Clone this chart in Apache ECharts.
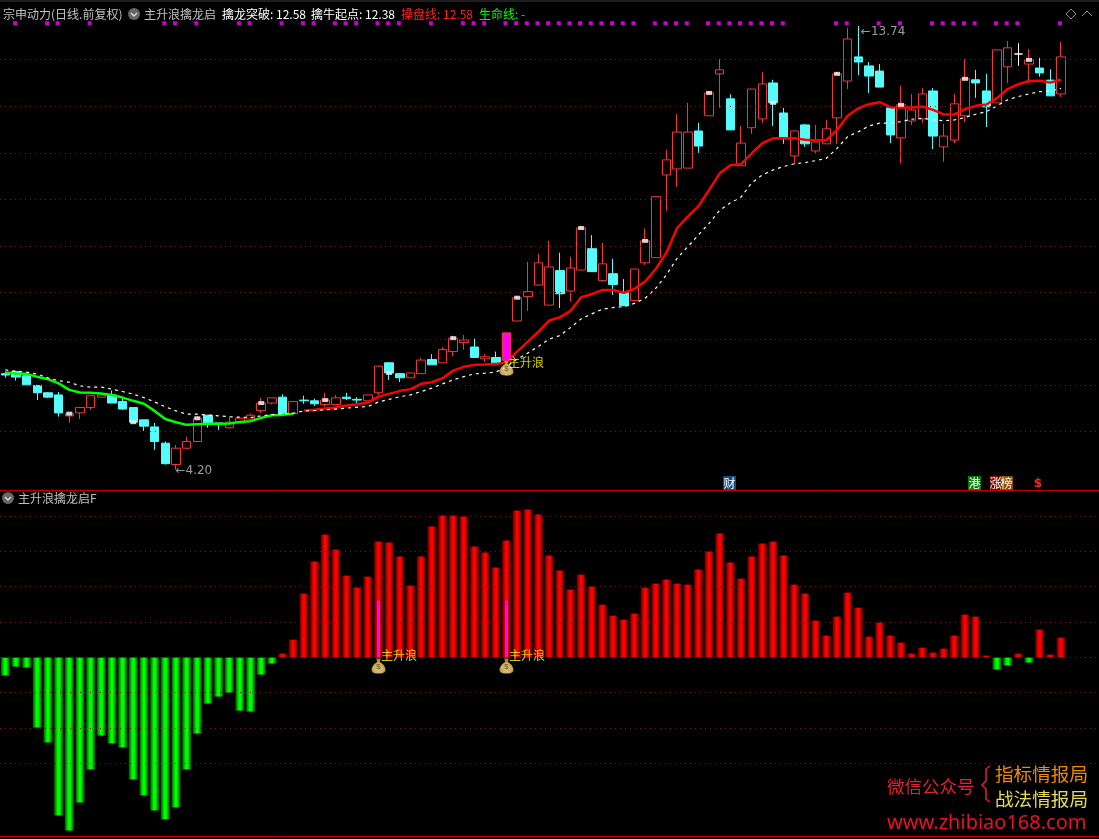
<!DOCTYPE html>
<html><head><meta charset="utf-8"><style>html,body{margin:0;padding:0;background:#000}#c{width:1099px;height:839px}</style>
<script src="https://cdn.jsdelivr.net/npm/echarts@6/dist/echarts.min.js"></script></head><body><div id="c"></div>
<script>
// open, close, low, high
const ohlc = [
[5.43,5.41,5.37,5.46],[5.46,5.38,5.33,5.47],[5.40,5.27,5.27,5.41],[5.26,5.16,5.06,5.27],[5.16,5.10,5.09,5.17],
[5.13,4.89,4.84,5.17],[4.85,4.88,4.76,4.88],[4.89,4.96,4.81,4.97],[4.96,5.12,4.93,5.12],[5.10,5.13,5.10,5.13],
[5.13,5.02,5.02,5.19],[5.04,4.94,4.93,5.10],[4.96,4.77,4.77,4.96],[4.80,4.72,4.66,4.80],[4.71,4.53,4.43,4.76],
[4.51,4.27,4.26,4.53],[4.26,4.45,4.20,4.49],[4.45,4.53,4.44,4.59],[4.53,4.82,4.53,4.85],[4.86,4.76,4.70,4.86],
[4.76,4.75,4.67,4.76],[4.70,4.77,4.69,4.84],[4.76,4.82,4.76,4.82],[4.81,4.86,4.81,4.88],[4.92,5.02,4.89,5.09],
[5.02,5.09,5.00,5.09],[5.10,4.88,4.88,5.14],[4.88,5.04,4.88,5.04],[5.06,5.05,5.01,5.12],[5.05,5.01,4.98,5.08],
[5.00,5.06,4.97,5.16],[5.00,5.09,5.00,5.13],[5.10,5.08,5.06,5.16],[5.07,5.06,5.02,5.10],[5.05,5.13,5.05,5.13],
[5.16,5.54,5.13,5.54],[5.59,5.44,5.34,5.59],[5.43,5.37,5.31,5.44],[5.37,5.44,5.37,5.44],[5.43,5.63,5.43,5.66],
[5.64,5.56,5.56,5.72],[5.59,5.79,5.59,5.83],[5.76,5.97,5.69,6.01],[5.90,5.94,5.79,6.02],[5.83,5.67,5.67,5.96],
[5.65,5.68,5.60,5.72],[5.67,5.59,5.59,5.76],[5.63,6.05,5.63,6.05],[6.25,6.65,6.25,6.68],[6.67,6.76,6.42,7.32],
[6.88,7.30,6.88,7.48],[6.52,7.22,6.52,7.74],[7.15,6.72,6.47,7.50],[6.77,7.20,6.58,7.42],[7.16,8.01,7.16,8.06],
[7.58,7.13,7.13,7.86],[6.96,7.28,6.94,7.70],[7.09,6.89,6.70,7.38],[6.74,6.51,6.51,6.99],[6.60,7.18,6.60,7.18],
[7.30,7.74,7.26,8.00],[7.40,8.71,7.40,8.71],[9.23,9.61,8.39,9.87],[9.38,10.35,8.94,10.86],[9.40,10.35,9.40,11.19],
[10.38,9.97,9.79,10.61],[10.81,11.49,10.81,11.55],[12.09,12.22,11.04,12.58],[11.31,10.41,10.41,11.45],[9.46,10.05,9.46,10.52],
[10.47,11.61,10.30,11.61],[10.72,11.77,10.61,12.15],[11.80,11.19,10.52,11.90],[10.89,10.19,10.03,11.04],[9.71,10.38,9.51,10.38],
[10.55,10.03,9.95,10.58],[9.84,10.08,9.76,10.55],[10.03,10.44,10.03,10.69],[10.75,12.09,10.03,12.15],[11.86,13.27,11.61,13.67],
[12.65,12.48,12.05,13.74],[12.35,12.02,11.49,12.48],[12.18,11.67,11.67,12.41],[11.04,10.27,10.05,11.04],[10.19,11.13,9.53,11.71],
[10.66,10.98,10.55,11.46],[10.72,11.46,10.61,11.64],[11.55,10.24,9.89,11.64],[9.95,10.24,9.56,10.58],[10.13,11.16,10.05,11.46],
[10.81,11.93,10.63,12.58],[11.90,11.80,11.34,12.22],[11.55,11.07,10.49,12.09],[11.19,12.89,11.19,12.89],[12.32,12.96,11.80,13.20],
[12.75,12.75,12.35,13.12],[12.41,12.55,11.80,12.92],[12.28,12.12,12.00,12.62],[11.89,11.40,11.40,12.24],[11.46,12.65,11.37,13.17]
];
const controlLine = [5.446,5.431,5.427,5.384,5.35,5.29,5.20,5.163,5.16,5.15,
5.13,5.094,5.05,5.01,4.916,4.81,4.77,4.736,4.745,4.75,
4.75,4.753,4.774,4.783,4.825,4.86,4.864,4.88,4.92,4.93,
4.947,4.96,4.986,5.005,5.026,5.107,5.145,5.186,5.21,5.284,
5.307,5.365,5.474,5.53,5.559,5.564,5.57,5.60,5.76,5.916,
6.075,6.257,6.31,6.42,6.66,6.713,6.79,6.79,6.74,6.81,
6.945,7.18,7.50,8.01,8.26,8.49,8.87,9.27,9.47,9.50,
9.78,10.05,10.18,10.18,10.18,10.14,10.12,10.13,10.41,10.81,
11.03,11.15,11.21,11.06,11.05,11.05,11.08,10.98,10.85,10.85,
11.00,11.10,11.14,11.33,11.61,11.76,11.86,11.87,11.81,11.90];
const lifeLine = [5.485,5.466,5.452,5.423,5.369,5.33,5.307,5.256,5.238,5.238,
5.21,5.177,5.14,5.094,5.035,4.97,4.916,4.873,4.873,4.86,
4.851,4.84,4.834,4.83,4.851,4.868,4.877,4.886,4.916,4.92,
4.93,4.94,4.952,4.965,4.973,5.035,5.07,5.107,5.13,5.177,
5.224,5.284,5.34,5.388,5.427,5.437,5.452,5.53,5.647,5.736,
5.84,5.955,6.011,6.14,6.285,6.37,6.45,6.478,6.495,6.55,
6.642,6.82,7.07,7.39,7.62,7.865,8.11,8.40,8.57,8.70,
9.04,9.23,9.355,9.44,9.51,9.54,9.59,9.65,9.91,10.225,
10.36,10.52,10.60,10.60,10.64,10.71,10.74,10.69,10.67,10.69,
10.76,10.855,10.93,11.10,11.28,11.38,11.46,11.53,11.55,11.63];
const momentum = [-18,-9,-10,-70,-85,-158,-173,-145,-112,-78,
-86,-90,-122,-138,-153,-162,-150,-112,-76,-46,
-39,-35,-53,-54,-17,-6,4,18,64,96,
123,108,82,70,81,116,115,101,72,101,
131,142,142,141,111,105,90,117,147,148,
143,102,87,68,83,71,53,42,38,44,
70,74,78,74,73,88,106,124,95,79,
101,114,116,102,73,64,37,22,41,65,
50,21,35,22,15,4,10,5,9,22,
43,41,2,-12,-8,4,-5,28,3,20];
const greenEnd = 27;              // control line is green up to this bar, red after it
const whiteMarkBars = [6,12,18,24,30,36,42,48,54,60,66,72,78,84,90,96];
const topDotBars = [1,4,5,8,15,16,18,22,23,26,28,29,31,32,33,35,36,37,40,43,44,45,47,48,49,50,51,52,53,54,55,56,57,58,59,61,62,63,64,66,67,68,69,70,71,72,73,78,79,82,84,87,88,89,90,91,93,94,95,99];
const signalBarsUpper = [47];
const signalBarsLower = [35,47];
const signalHeight = 57;
const extremes = [{bar:80,price:13.74,text:'←13.74',dy:6,dx:-3},{bar:16,price:4.20,text:'←4.20',dy:1,dx:-6}];
const priceGrid = [12.58,11.10,9.79,8.66,7.64,6.755,5.96,5.27,4.65];
const momentumGrid = [141,106,71,35,0,-35,-71,-106];
const priceRange = [3.98,13.96];
const momentumRange = [-178.4,166.6];
const dotPrice = 13.84, signalTextPrice = 5.60, bagPrice = 5.51;
const axisTicks = [84,89];
const blankSlots = 3;           // empty bars to the right of the last candle
const barIdx = Array.from({length:ohlc.length+blankSlots},(_,i)=>i);

const UP='#f53535', CY='#54fcfc';
const grad=(a,b)=>new echarts.graphic.LinearGradient(0,0,1,0,[{offset:0,color:a},{offset:.4,color:b},{offset:.6,color:b},{offset:1,color:a}]);
const redGrad=grad('#500000','#ff0000'), greenGrad=grad('#005000','#00ff00');
const bag='path://M33,0 L67,0 L58,22 C85,35 100,60 98,78 C96,95 75,100 50,100 C25,100 4,95 2,78 C0,60 15,35 42,22 Z';
const bagFill=new echarts.graphic.RadialGradient(.5,.65,.6,[{offset:0,color:'#fff9dc'},{offset:.6,color:'#ffdc68'},{offset:1,color:'#d89c18'}]);
const FONT='"Noto Sans CJK SC"';
const txt=(text,x,y,color,size,extra)=>({type:'text',x,y,silent:true,z:50,style:Object.assign({text,fill:color,font:size+'px '+FONT,verticalAlign:'middle'},extra||{})});
const chip=(ch,x,y,w,bg)=>[
 {type:'rect',silent:true,z:49,shape:{x,y,width:w,height:14},style:{fill:bg}},
 txt(ch,x+w/2,y+7,'#fff',12,{align:'center'})];
const chevron=(cx,cy)=>[
 {type:'circle',silent:true,z:49,shape:{cx,cy,r:6},style:{fill:'#666'}},
 {type:'polyline',silent:true,z:50,shape:{points:[[cx-3,cy-1],[cx,cy+2],[cx+3,cy-1]]},style:{stroke:'#ddd',lineWidth:1.4,fill:null}}];
const hline=v=>({yAxis:v});
const gridLS={color:'#8a1010',width:1,type:[1,4]};

const graphics=[
 {type:'rect',silent:true,shape:{x:0,y:0,width:1099,height:2},style:{fill:'#1e1e1e'}},
 {type:'line',silent:true,z:40,shape:{x1:0,y1:490.5,x2:1099,y2:490.5},style:{stroke:'#c00000',lineWidth:1}},
 txt('宗申动力(日线.前复权)',3,14,'#c0c0c0',12),...chevron(134,14),
 txt('主升浪擒龙启',144,14,'#c0c0c0',12),
 txt('擒龙突破: 12.58',222,14,'#ffffff',12),
 txt('擒牛起点: 12.38',311,14,'#ffffff',12),
 txt('操盘线: 12.58',401,14,'#ff2020',12),
 txt('生命线: -',479,14,'#00ff00',12),
 {type:'polygon',silent:true,z:50,shape:{points:[[1071,9],[1076,14],[1071,19],[1066,14]]},style:{stroke:'#8a8a8a',fill:null}},
 {type:'polyline',silent:true,z:50,shape:{points:[[1082,16],[1087,11],[1092,16]]},style:{stroke:'#8a8a8a',fill:null}},
 ...chevron(8,498),txt('主升浪擒龙启F',18,498,'#c0c0c0',12),
 ...chip('财',723,476,13,'#174a7c'),...chip('港',968,476,13,'#0a7a0a'),
 ...chip('涨',990,476,11,'#7a0a0a'),...chip('榜',1000,476,13,'#8a4c06'),
 txt('$',1038,484,'#ff2020',12,{align:'center',font:'bold 12px "DejaVu Sans"'}),
 txt('微信公众号',887,786,'#e6202c',17.5),
 {type:'polyline',silent:true,z:50,shape:{points:[[990,766],[986,769],[986,781],[982,785],[986,789],[986,799],[990,802]]},style:{stroke:'#e6202c',lineWidth:1.5,fill:null}},
 txt('指标情报局',995,774,'#f08a00',18.6),
 txt('战法情报局',995,799,'#e6dc5a',18.6),
 txt('www.zhibiao168.com',887,823,'#e8102a',20,{font:'20px "Noto Sans"'}),
];

const gridW=10.67*barIdx.length;
const option={
 backgroundColor:'#000',animation:false,graphic:graphics,
 grid:[{left:-0.73,top:20,width:gridW,height:470},{left:-0.73,top:491,width:gridW,height:345}],
 xAxis:[
  {type:'category',data:barIdx,gridIndex:0,show:false},
  {type:'category',data:barIdx,gridIndex:1,position:'bottom',axisLine:{onZero:false,lineStyle:{color:'#c00000'}},
   axisTick:{customValues:axisTicks,length:3,lineStyle:{color:'#c00000'}},axisLabel:{show:false},splitLine:{show:false}}
 ],
 yAxis:[
  {type:'log',logBase:10,gridIndex:0,min:priceRange[0],max:priceRange[1],show:false},
  {type:'value',gridIndex:1,min:momentumRange[0],max:momentumRange[1],show:false}
 ],
 series:[
  {type:'line',data:[],xAxisIndex:0,yAxisIndex:0,z:0,silent:true,markLine:{silent:true,symbol:'none',label:{show:false},lineStyle:gridLS,animation:false,data:priceGrid.map(hline)}},
  {type:'candlestick',name:'K',xAxisIndex:0,yAxisIndex:0,z:2,barWidth:9,
   itemStyle:{color:'#000',color0:CY,borderColor:UP,borderColor0:CY,borderWidth:1},
   data:ohlc.map((d,i)=>i===95?{value:d,itemStyle:{color:'#fff',color0:'#fff',borderColor:'#fff',borderColor0:'#fff',borderColorDoji:'#fff'}}:d)},
  {type:'line',name:'操盘线绿',xAxisIndex:0,yAxisIndex:0,z:3,symbol:'none',lineStyle:{color:'#00ff00',width:2.5},
   data:controlLine.map((v,i)=>i<=greenEnd?v:null)},
  {type:'line',name:'操盘线红',xAxisIndex:0,yAxisIndex:0,z:3,symbol:'none',lineStyle:{color:'#ff0000',width:2.5},
   data:controlLine.map((v,i)=>i>greenEnd?v:null)},
  {type:'line',name:'生命线',xAxisIndex:0,yAxisIndex:0,z:3,symbol:'none',lineStyle:{color:'#ffffff',width:1.2,type:[3,4]},data:lifeLine},
  {type:'candlestick',name:'主升浪K',xAxisIndex:0,yAxisIndex:0,z:5,barWidth:9,
   itemStyle:{color:'#ff00ff',color0:'#ff00ff',borderColor:UP,borderColor0:UP,borderWidth:1.5},
   data:ohlc.map((d,i)=>signalBarsUpper.includes(i)?d:[NaN,NaN,NaN,NaN])},
  {type:'scatter',name:'收盘标记',xAxisIndex:0,yAxisIndex:0,z:6,symbol:'rect',symbolSize:[6,4],itemStyle:{color:'#fff'},
   data:whiteMarkBars.map(i=>[i,ohlc[i][1]])},
  {type:'scatter',name:'顶部信号',xAxisIndex:0,yAxisIndex:0,z:6,symbol:'rect',symbolSize:4,symbolOffset:[-1,0],itemStyle:{color:'#ff00ff'},
   data:topDotBars.map(i=>[i,dotPrice])},
  {type:'scatter',xAxisIndex:0,yAxisIndex:0,z:7,symbol:'circle',symbolSize:1,itemStyle:{color:'rgba(0,0,0,0)'},
   data:extremes.map(e=>({value:[e.bar,e.price],label:{show:true,position:'right',offset:[e.dx,e.dy],formatter:e.text,color:'#c0c0c0',fontSize:12,fontFamily:'"DejaVu Sans"'}}))},
  {type:'scatter',xAxisIndex:0,yAxisIndex:0,z:8,symbol:bag,symbolSize:[14,15],itemStyle:{color:bagFill},
   label:{show:true,position:'inside',offset:[0,1],formatter:'$',color:'#7a4a10',fontSize:8,fontWeight:'bold'},
   data:signalBarsUpper.map(i=>[i,bagPrice])},
  {type:'scatter',xAxisIndex:0,yAxisIndex:0,z:8,symbolSize:1,itemStyle:{color:'rgba(0,0,0,0)'},
   label:{show:true,position:'right',offset:[-4,0],formatter:'主升浪',color:'#ffff00',fontSize:12,fontFamily:FONT},
   data:signalBarsUpper.map(i=>[i,signalTextPrice])},

  {type:'line',data:[],xAxisIndex:1,yAxisIndex:1,z:0,silent:true,markLine:{silent:true,symbol:'none',label:{show:false},lineStyle:gridLS,animation:false,data:momentumGrid.map(hline)}},
  {type:'bar',name:'动力',xAxisIndex:1,yAxisIndex:1,z:2,barWidth:9,
   itemStyle:{color:p=>p.value>=0?redGrad:greenGrad},data:momentum,
   markLine:{silent:true,symbol:'none',label:{show:false},animation:false,lineStyle:{color:'#ff00ff',width:3,type:'solid'},
    data:signalBarsLower.map(i=>[{xAxis:i,yAxis:0},{xAxis:i,yAxis:signalHeight}])}},
  {type:'scatter',xAxisIndex:1,yAxisIndex:1,z:8,symbol:bag,symbolSize:[14,15],itemStyle:{color:bagFill},
   label:{show:true,position:'inside',offset:[0,1],formatter:'$',color:'#7a4a10',fontSize:8,fontWeight:'bold'},
   data:signalBarsLower.map(i=>[i,-8.5])},
  {type:'scatter',xAxisIndex:1,yAxisIndex:1,z:8,symbolSize:1,itemStyle:{color:'rgba(0,0,0,0)'},
   label:{show:true,position:'right',offset:[-3,0],formatter:'主升浪',color:'#ffff00',fontSize:12,fontFamily:FONT},
   data:signalBarsLower.map(i=>[i,2])}
 ]
};
const chart=echarts.init(document.getElementById('c'),null,{width:1099,height:839});
chart.setOption(option);
</script></body></html>
